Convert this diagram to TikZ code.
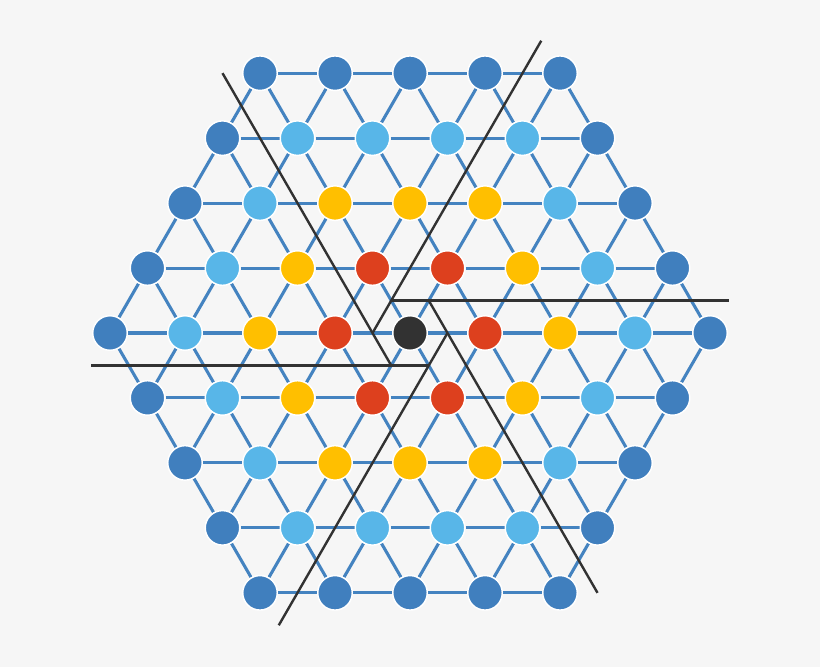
\documentclass[tikz,border=0pt]{standalone}
\usetikzlibrary{backgrounds}

\definecolor{bgGrey}{RGB}{246,246,246}
\definecolor{edgeBlue}{RGB}{68,131,192}
\definecolor{ringFour}{RGB}{64,127,190}
\definecolor{ringThree}{RGB}{88,182,232}
\definecolor{ringTwo}{RGB}{255,191,0}
\definecolor{ringOne}{RGB}{221,64,30}
\definecolor{ringZero}{RGB}{50,50,50}
\definecolor{cutGrey}{RGB}{50,50,50}

\tikzset{
	site/.style={circle, draw=white, line width=1.1pt, minimum size=25.9pt, inner sep=0pt},
	ring0/.style={site, fill=ringZero},
	ring1/.style={site, fill=ringOne},
	ring2/.style={site, fill=ringTwo},
	ring3/.style={site, fill=ringThree},
	ring4/.style={site, fill=ringFour},
	bond/.style={draw=edgeBlue, line width=2.3pt},
	cut/.style={draw=cutGrey, line width=1.8pt}
}

\begin{document}
\begin{tikzpicture}[x=0.75pt,y=0.75pt,yscale=-1,xscale=1]
	\useasboundingbox (0,0) rectangle (820,667);

	% Background
	\begin{scope}[on background layer]
	\fill [bgGrey] (0,0) rectangle (820,667);
	\end{scope}

	% Sites, coloured by ring
	\foreach \q in {-4,...,4}{
		\foreach \r in {-4,...,4}{
			\pgfmathtruncatemacro{\d}{max(abs(\q),abs(\r),abs(\q+\r))}
			\ifnum\d<5
				\node [ring\d] (n\q\r) at ({410+75*\q+37.5*\r},{333+64.952*\r}) {};
			\fi
		}
	}

	% Bonds
	\begin{scope}[on background layer]
	\foreach \q in {-4,...,4}{
		\foreach \r in {-4,...,4}{
			\pgfmathtruncatemacro{\d}{max(abs(\q),abs(\r),abs(\q+\r))}
			\pgfmathtruncatemacro{\qp}{\q+1}
			\pgfmathtruncatemacro{\qm}{\q-1}
			\pgfmathtruncatemacro{\rp}{\r+1}
			\pgfmathtruncatemacro{\dA}{max(abs(\qp),abs(\r),abs(\qp+\r))}
			\pgfmathtruncatemacro{\dB}{max(abs(\q),abs(\rp),abs(\q+\rp))}
			\pgfmathtruncatemacro{\dC}{max(abs(\qm),abs(\rp),abs(\qm+\rp))}
			\ifnum\d<5
				\ifnum\dA<5 \draw [bond] (n\q\r) -- (n\qp\r); \fi
				\ifnum\dB<5 \draw [bond] (n\q\r) -- (n\q\rp); \fi
				\ifnum\dC<5 \draw [bond] (n\q\r) -- (n\qm\rp); \fi
			\fi
		}
	}

	% Cut lines
	\coordinate (h0) at (447.5,333);
	\coordinate (h1) at (428.75,300.52);
	\coordinate (h2) at (391.25,300.52);
	\coordinate (h3) at (372.5,333);
	\coordinate (h4) at (391.25,365.48);
	\coordinate (h5) at (428.75,365.48);
	\coordinate (e0) at (278.75,625.28);
	\coordinate (e1) at (597.5,592.84);
	\coordinate (e2) at (728.75,300.52);
	\coordinate (e3) at (541.25,40.72);
	\coordinate (e4) at (222.5,73.16);
	\coordinate (e5) at (91.25,365.48);
	\foreach \k in {0,...,5}{
		\draw [cut] (h\k) -- (e\k);
	}
	\end{scope}

\end{tikzpicture}
\end{document}
